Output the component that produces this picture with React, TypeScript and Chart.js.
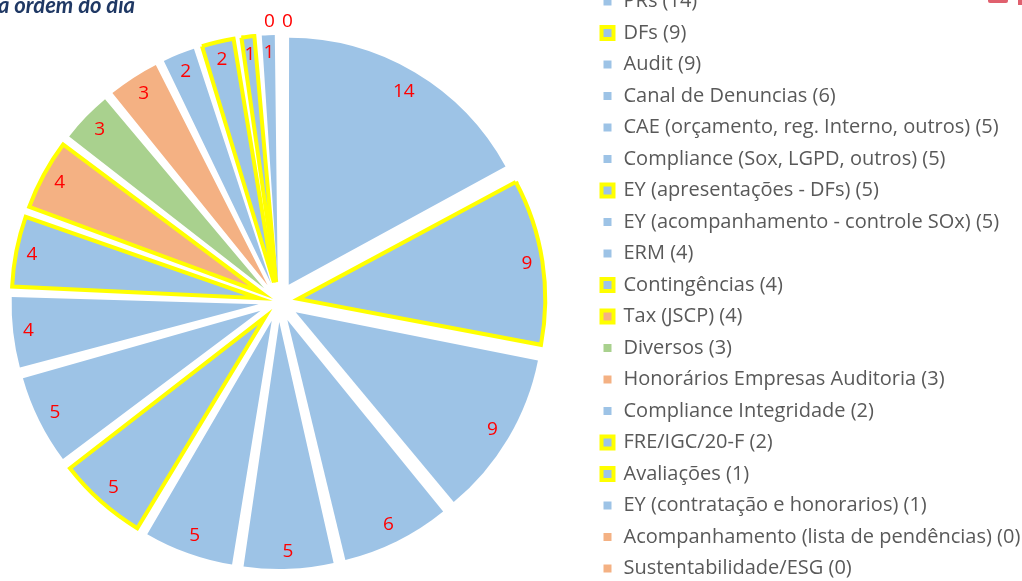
import React, { useEffect, useRef } from 'react';
import { Chart, registerables } from 'chart.js';

Chart.register(...registerables);

// ---- data ----
const categories: string[] = [
  'PRs',
  'DFs',
  'Audit',
  'Canal de Denuncias',
  'CAE (orçamento, reg. Interno, outros)',
  'Compliance (Sox, LGPD, outros)',
  'EY (apresentações - DFs)',
  'EY (acompanhamento - controle SOx)',
  'ERM',
  'Contingências',
  'Tax (JSCP)',
  'Diversos',
  'Honorários Empresas Auditoria',
  'Compliance Integridade',
  'FRE/IGC/20-F',
  'Avaliações',
  'EY (contratação e honorarios)',
  'Acompanhamento (lista de pendências)',
  'Sustentabilidade/ESG',
];
const counts: number[] = [14, 9, 9, 6, 5, 5, 5, 5, 4, 4, 4, 3, 3, 2, 2, 1, 1, 0, 0];
const colorKeys: string[] = ['b', 'b', 'b', 'b', 'b', 'b', 'b', 'b', 'b', 'b', 'o', 'g', 'o', 'b', 'b', 'b', 'b', 'o', 'o'];
const highlighted: boolean[] = [false, true, false, false, false, false, true, false, false, true, true, false, false, false, true, true, false, false, false];
const titleText = 'a ordem do dia';

// ---- style ----
const PALETTE: Record<string, string> = { b: '#9DC3E6', o: '#F4B183', g: '#A9D18E' };
const YELLOW = '#FFFF00';
const FONT = '"Open Sans"';
const FONT_SIZE = 20;
const LABEL_SIZE = 19;
const EXPLODE = 20; // px radial explosion of each slice
const RADIUS = 247;
const CANVAS_W = 1076;
const CANVAS_H = 644;
const CANVAS_LEFT = -34;
const CANVAS_TOP = -20;

const legendTexts = categories.map((c, i) => `${c} (${counts[i]})`);
const sliceColors = colorKeys.map((k) => PALETTE[k]);

const radiusFixPlugin = {
  id: 'radiusFix',
  beforeDatasetsDraw(chart: any) {
    const meta = chart.getDatasetMeta(0);
    const R = meta.controller.outerRadius;
    meta.data.forEach((el: any) => {
      const c = el.circumference || 0;
      const fix = 1 - Math.sin(Math.min(Math.PI, c));
      el.outerRadius = R - EXPLODE * fix;
    });
  },
};

const labelPlugin = {
  id: 'sliceLabels',
  afterDatasetsDraw(chart: any) {
    const ctx = chart.ctx;
    const meta = chart.getDatasetMeta(0);
    const R = meta.controller.outerRadius;
    ctx.save();
    ctx.font = `${LABEL_SIZE}px ${FONT}`;
    ctx.fillStyle = '#FF0000';
    ctx.textAlign = 'center';
    ctx.textBaseline = 'middle';
    const zeroTotal = counts.filter((v) => v === 0).length;
    let zeroIdx = 0;
    meta.data.forEach((el: any, i: number) => {
      const v = counts[i];
      const text = String(v);
      if (v === 0) {
        const a = el.startAngle;
        const dist = R + EXPLODE + 13;
        const x = el.x + Math.cos(a) * dist + (zeroIdx - (zeroTotal - 1) / 2) * 18;
        const y = el.y + Math.sin(a) * dist;
        zeroIdx++;
        ctx.fillText(text, x, y);
        return;
      }
      const a = (el.startAngle + el.endAngle) / 2;
      const w = ctx.measureText(text).width;
      const h = 17;
      const dist = R - 9 - (Math.abs(Math.cos(a)) * w / 2 + Math.abs(Math.sin(a)) * h / 2);
      const x = el.x + Math.cos(a) * (EXPLODE + dist);
      const y = el.y + Math.sin(a) * (EXPLODE + dist);
      ctx.fillText(text, x, y);
    });
    ctx.restore();
  },
};

export default function App() {
  const ref = useRef<HTMLCanvasElement>(null);

  useEffect(() => {
    const canvas = ref.current!;
    const mctx = canvas.getContext('2d')!;
    mctx.font = `${FONT_SIZE}px ${FONT}`;
    const maxTextW = Math.max(...legendTexts.map((t) => mctx.measureText(t).width));
    const padRight = 388.5 + (CANVAS_W - 1056) - maxTextW;

    const chart = new Chart(canvas, {
      type: 'pie',
      data: {
        labels: legendTexts,
        datasets: [
          {
            data: counts,
            backgroundColor: sliceColors,
            borderColor: highlighted.map((h) => (h ? YELLOW : '#FFFFFF')),
            borderWidth: highlighted.map((h) => (h ? 4 : 0)),
            borderJoinStyle: 'miter',
            offset: EXPLODE * 4,
            radius: RADIUS,
          } as any,
        ],
      },
      options: {
        responsive: false,
        animation: false,
        devicePixelRatio: 1,
        radius: RADIUS,
        layout: { padding: { left: 1, right: padRight, top: 0, bottom: 0 } },
        plugins: {
          tooltip: { enabled: false },
          title: { display: false },
          legend: {
            display: true,
            position: 'right',
            align: 'start',
            labels: {
              boxWidth: 12,
              boxHeight: 12,
              padding: 31.5 - FONT_SIZE,
              color: '#595959',
              font: { family: FONT, size: FONT_SIZE },
              generateLabels: () =>
                legendTexts.map((t, i) => ({
                  text: t,
                  fillStyle: sliceColors[i],
                  strokeStyle: highlighted[i] ? YELLOW : '#FFFFFF',
                  lineWidth: 4,
                  hidden: false,
                  index: i,
                  fontColor: '#595959',
                })),
            },
          },
        },
      } as any,
      plugins: [radiusFixPlugin, labelPlugin],
    });
    return () => chart.destroy();
  }, []);

  return (
    <div style={{ position: 'fixed', left: 0, top: 0, width: 1022, height: 581, overflow: 'hidden', background: '#FFFFFF' }}>
      <canvas
        ref={ref}
        width={CANVAS_W}
        height={CANVAS_H}
        style={{ position: 'absolute', left: CANVAS_LEFT, top: CANVAS_TOP, width: CANVAS_W, height: CANVAS_H }}
      />
      <div
        style={{
          position: 'absolute',
          left: -2,
          top: -5,
          font: 'italic bold 22px Lato',
          lineHeight: '20px',
          color: '#1F3864',
          whiteSpace: 'nowrap',
        }}
      >
        {titleText}
      </div>
      <div style={{ position: 'absolute', left: 988, top: 0, width: 20, height: 3, background: '#E0606E', borderRadius: '0 0 2px 2px' }} />
      <div style={{ position: 'absolute', left: 1018, top: 0, width: 4, height: 5, background: '#E0606E' }} />
    </div>
  );
}
